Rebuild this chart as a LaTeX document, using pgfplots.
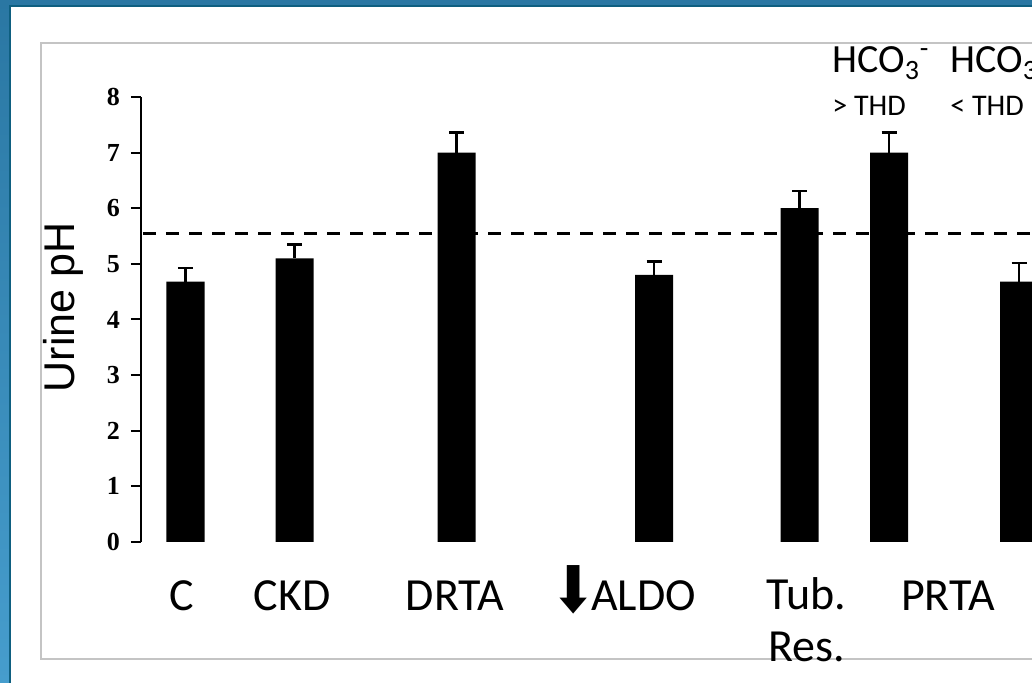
\documentclass[border=0pt]{standalone}
\usepackage{pgfplots}
\pgfplotsset{compat=1.18}
\usepackage{fontspec}
\setmainfont{Carlito}
\newfontfamily\arialfont{Liberation Sans}
\newfontfamily\timesfont{Liberation Serif}
\newfontfamily\dejavu{DejaVu Sans}
\definecolor{slideblue}{HTML}{2A77A3}
\definecolor{slidebluelight}{HTML}{469DCD}
\definecolor{slidedark}{HTML}{0E5F80}
\definecolor{framegray}{HTML}{C4C4C4}
\begin{document}
\begin{tikzpicture}[x=0.5pt,y=0.5pt]
\useasboundingbox (0,0) rectangle (1032,683);
\clip (0,0) rectangle (1032,683);
\fill[white] (0,0) rectangle (1032,683);
% slide border
\fill[top color=slideblue,bottom color=slidebluelight] (0,0) rectangle (10,683);
\fill[slideblue] (0,678) rectangle (1032,683);
\fill[slidedark] (9,0) rectangle (11,678);
\fill[slidedark] (9,676) rectangle (1032,678);
% chart frame
\draw[framegray, line width=1pt] (1040,640) -- (41,640) -- (41,24) -- (1040,24);
\begin{axis}[
  at={(70.5pt,70.5pt)}, anchor=south west,
  scale only axis,
  width=445.5pt, height=222.5pt,
  xmin=141, xmax=1032,
  ymin=0, ymax=8,
  axis y line=left,
  axis x line=bottom,
  x axis line style={draw=none},
  y axis line style={-, line width=1pt, black},
  ytick={0,1,2,3,4,5,6,7,8},
  tick align=outside,
  major tick length=5pt,
  ytick style={line width=1pt, black},
  xtick style={draw=none},
  xtick={182,292,455,623,948},
  xticklabels={C,CKD,DRTA,{\smash{\raisebox{-1pt}{\scalebox{1.2}[1.4]{\dejavu ⬇}}}\hspace{-2.5pt}ALDO},PRTA},
  extra x ticks={806.5},
  extra x tick labels={{Tub.\\Res.}},
  extra x tick style={xtick style={draw=none}, xticklabel style={yshift=1.5pt}},
  xticklabel style={font=\fontsize{23}{25.5}\selectfont, align=center, yshift=-11pt},
  yticklabel style={font=\timesfont\bfseries\fontsize{13}{15}\selectfont, xshift=-2pt},
  /pgf/number format/assume math mode=true,
  ylabel={Urine pH},
  ylabel style={at={(axis description cs:-0.0875,0.527)}, anchor=center, font=\arialfont\fontsize{21.5}{24}\selectfont},
  clip=false,
]
\addplot[ybar, bar width=19pt, fill=black, draw=none,
  error bars/.cd, y dir=plus, y explicit,
  error bar style={line width=1.2pt, black},
  error mark options={rotate=90, mark size=3.75pt, line width=1.2pt, black}]
  coordinates {
  (185.5,4.68) +- (0,0.25)
  (294.5,5.10) +- (0,0.25)
  (456.5,7.00) +- (0,0.36)
  (654,4.80) +- (0,0.24)
  (799.5,6.00) +- (0,0.31)
  (889,7.00) +- (0,0.36)
  (1019,4.68) +- (0,0.34)
  };
\addplot[black, line width=1.5pt, dash pattern=on 6.5pt off 5pt, forget plot]
  coordinates {(143,5.55) (1032,5.55)};
\end{axis}
\node[anchor=base west, inner sep=0pt, font=\fontsize{20}{24}\selectfont] at (832,610) {HCO\textsubscript{3}\textsuperscript{-}};
\node[anchor=base west, inner sep=0pt, font=\fontsize{20}{24}\selectfont] at (950,610) {HCO\textsubscript{3}\textsuperscript{-}};
\node[anchor=base west, inner sep=0pt, font=\fontsize{15}{18}\selectfont] at (832,567) {> THD};
\node[anchor=base west, inner sep=0pt, font=\fontsize{15}{18}\selectfont] at (950,567) {< THD};
\end{tikzpicture}
\end{document}
